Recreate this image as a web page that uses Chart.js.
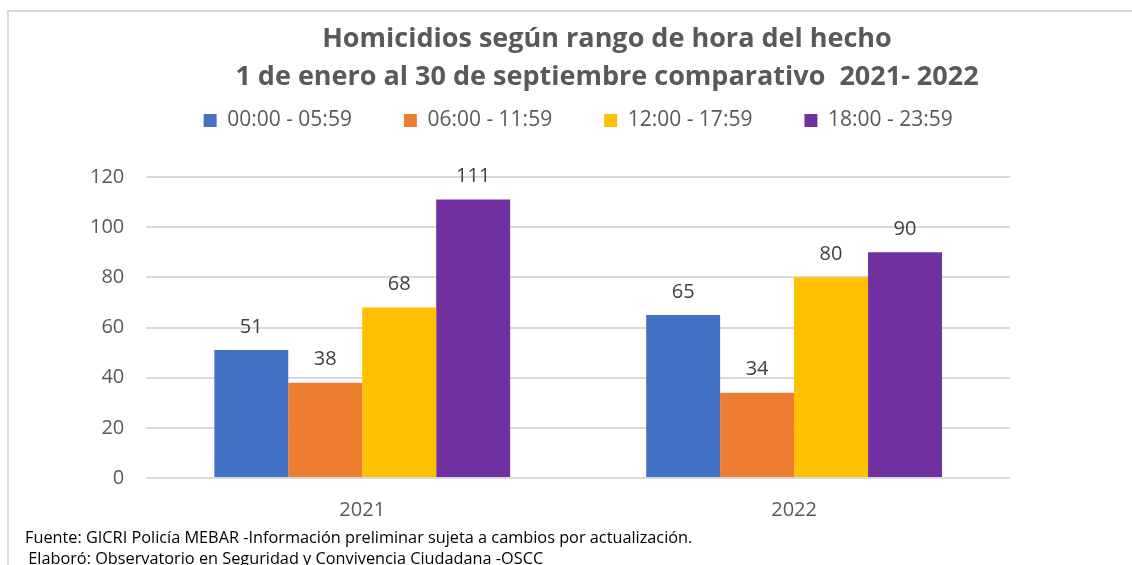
<!DOCTYPE html>
<html>
<head>
<meta charset="utf-8">
<script src="https://cdn.jsdelivr.net/npm/chart.js@4/dist/chart.umd.min.js"></script>
<style>
  body { margin: 0; background: #fff; }
  #wrap { position: relative; width: 1132px; height: 565px; overflow: hidden; font-family: 'Open Sans', sans-serif; }
  #frame { position: absolute; left: 7px; top: 10px; width: 1200px; height: 700px; border-left: 2px solid #d9d9d9; border-top: 2px solid #d9d9d9; }
  canvas { position: absolute; left: 0; top: 0; }
  .title { position: absolute; left: 107px; width: 1000px; text-align: center; font-weight: bold; font-size: 27px; color: #595959; line-height: 30px; white-space: pre; }
  .foot { position: absolute; font-size: 16.3px; color: #000; white-space: pre; line-height: 20px; }
</style>
</head>
<body>
<div id="wrap">
  <div id="frame"></div>
  <canvas id="bars" width="1132" height="565"></canvas>
  <div class="title" style="top:22px">Homicidios según rango de hora del hecho</div>
  <div class="title" style="top:60px">1 de enero al 30 de septiembre comparativo  2021- 2022</div>
  <div class="foot" style="left:25px; top:527px">Fuente: GICRI Policía MEBAR -Información preliminar sujeta a cambios por actualización.</div>
  <div class="foot" style="left:24px; top:548px"> Elaboró: Observatorio en Seguridad y Convivencia Ciudadana -OSCC</div>
</div>
<script>
var years = ['2021', '2022'];
var rangos = ['00:00 - 05:59', '06:00 - 11:59', '12:00 - 17:59', '18:00 - 23:59'];
var madrugada = [51, 65];
var manana = [38, 34];
var tarde = [68, 80];
var noche = [111, 90];
var colores = ['#4472C4', '#ED7D31', '#FFC000', '#7030A0'];

// numbers above the bars
var valueLabels = {
    id: 'valueLabels',
    afterDatasetsDraw: function(chart) {
        var ctx = chart.ctx;
        ctx.save();
        ctx.font = '20px "Open Sans"';
        ctx.fillStyle = '#404040';
        ctx.textAlign = 'center';
        ctx.textBaseline = 'middle';
        chart.data.datasets.forEach(function(ds, i) {
            chart.getDatasetMeta(i).data.forEach(function(bar, j) {
                ctx.fillText(ds.data[j], bar.x, bar.y - 23);
            });
        });
        ctx.restore();
    }
};

var ctx = document.getElementById('bars').getContext('2d');
var myChart = new Chart(ctx, {
    type: 'bar',
    data: {
        labels: years,
        datasets: [
            { label: rangos[0], data: madrugada, backgroundColor: colores[0] },
            { label: rangos[1], data: manana, backgroundColor: colores[1] },
            { label: rangos[2], data: tarde, backgroundColor: colores[2] },
            { label: rangos[3], data: noche, backgroundColor: colores[3] }
        ]
    },
    options: {
        responsive: false,
        animation: false,
        layout: { padding: { top: 58, left: 68, right: 122, bottom: 31 } },
        datasets: { bar: { categoryPercentage: 0.685, barPercentage: 1 } },
        plugins: {
            legend: {
                position: 'top',
                fullSize: false,
                labels: {
                    boxWidth: 13,
                    boxHeight: 13,
                    padding: 52,
                    color: '#595959',
                    font: { family: 'Open Sans', size: 21 }
                }
            },
            tooltip: { enabled: false }
        },
        scales: {
            x: {
                grid: { display: false },
                border: { display: false },
                ticks: { color: '#595959', padding: 12, font: { family: 'Open Sans', size: 20 } }
            },
            // empty spacer between legend and plot
            gap: {
                axis: 'x',
                position: 'top',
                grid: { display: false },
                border: { display: false },
                ticks: { display: false },
                afterFit: function(scale) { scale.height = 36; }
            },
            y: {
                min: 0,
                max: 120,
                ticks: { stepSize: 20, color: '#595959', padding: 22, font: { family: 'Open Sans', size: 20 } },
                grid: { color: '#d9d9d9', lineWidth: 2, drawTicks: false },
                border: { display: false }
            }
        }
    },
    plugins: [valueLabels]
});
</script>
</body>
</html>
